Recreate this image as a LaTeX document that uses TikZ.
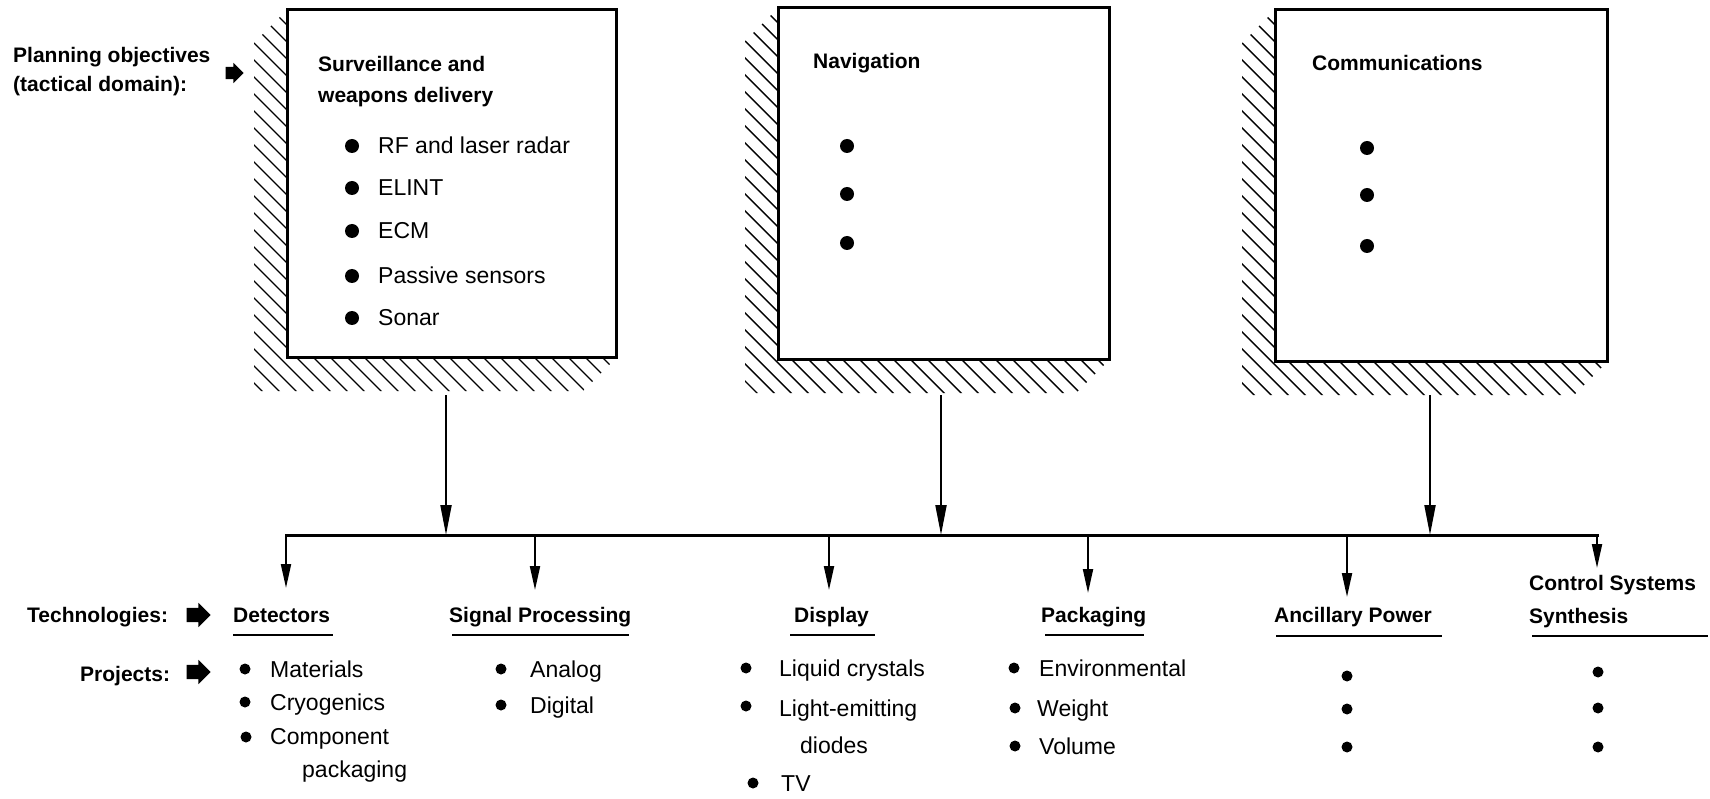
\documentclass[tikz,border=0pt]{standalone}
\usepackage{fontspec}
\setmainfont{Liberation Sans}
\usetikzlibrary{arrows.meta,shapes.arrows}
\newcommand\hatchedframe[5]{%
  \begin{scope}
    \clip (#2,#3) -- (#2-33,#3+33) -- (#2-33,#5+33) -- (#4-33,#5+33) -- (#4,#5) -- (#2,#5) -- cycle;
    \foreach \i in {0,...,28} \draw[hatch] (#2-440+\i*17,#3) -- ++(470,470);
  \end{scope}
  \node[frame, minimum width={(#4-#2)*1pt}, minimum height={(#5-#3)*1pt}] (#1) at ({(#2+#4)/2},{(#3+#5)/2}) {};
}
\begin{document}
\begin{tikzpicture}[x=1pt,y=-1pt,
  hd/.style={font=\fontsize{21}{25}\selectfont\bfseries, inner sep=0, anchor=base west},
  it/.style={font=\fontsize{23}{27}\selectfont, inner sep=0, anchor=base west},
  frame/.style={draw, line width=3pt, inner sep=0},
  hatch/.style={line width=1.4pt},
  bigdot/.style={circle, fill, inner sep=0, minimum size=14pt},
  smalldot/.style={circle, fill, inner sep=0, minimum size=11pt},
  feed/.style={line width=2pt, -{Triangle[length=30pt,width=11pt]}},
  drop/.style={line width=2pt, -{Triangle[length=24pt,width=10pt]}},
  bus/.style={line width=3pt, line cap=rect},
  uline/.style={line width=2.5pt},
  fat/.style={single arrow, fill, inner xsep=0pt, inner ysep=7pt, single arrow head extend=5pt, minimum height=24pt}
]
\useasboundingbox (0,0) rectangle (1710,799);

% objective boxes
\hatchedframe{b1}{287}{10}{616}{358}
\hatchedframe{b2}{778}{8}{1109}{360}
\hatchedframe{b3}{1275}{10}{1607}{362}

% left labels
\node[hd] (plan1) at (13,63) {Planning objectives};
\node[hd] (plan2) at (13,92) {(tactical domain):};
\node[fat, inner ysep=6pt, single arrow head extend=4pt, minimum height=18pt] (fa1) at (231.5,73) {};

% box 1
\node[hd] (s1) at (318,72) {Surveillance and};
\node[hd] (s2) at (318,103) {weapons delivery};
\node[bigdot] (d11) at (352,146) {}; \node[it] (i11) at (378,154) {RF and laser radar};
\node[bigdot] (d12) at (352,188) {}; \node[it] (i12) at (378,196) {ELINT};
\node[bigdot] (d13) at (352,231) {}; \node[it] (i13) at (378,239) {ECM};
\node[bigdot] (d14) at (352,276) {}; \node[it] (i14) at (378,284) {Passive sensors};
\node[bigdot] (d15) at (352,318) {}; \node[it] (i15) at (378,326) {Sonar};

% box 2
\node[hd] (nav) at (813,69) {Navigation};
\node[bigdot] (d21) at (847,146) {};
\node[bigdot] (d22) at (847,194) {};
\node[bigdot] (d23) at (847,243) {};

% box 3
\node[hd] (com) at (1312,71) {Communications};
\node[bigdot] (d31) at (1367,148) {};
\node[bigdot] (d32) at (1367,195) {};
\node[bigdot] (d33) at (1367,246) {};

% feeds into bus
\coordinate (f1s) at (446,395); \coordinate (f1e) at (446,535);
\coordinate (f2s) at (941,395); \coordinate (f2e) at (941,535);
\coordinate (f3s) at (1430,395); \coordinate (f3e) at (1430,535);
\draw[feed] (f1s) -- (f1e);
\draw[feed] (f2s) -- (f2e);
\draw[feed] (f3s) -- (f3e);

% bus
\coordinate (busL) at (286,535); \coordinate (busR) at (1597,535);
\draw[bus] (busL) -- (busR);
\coordinate (t1) at (286,535);  \coordinate (e1) at (286,588);
\coordinate (t2) at (535,535);  \coordinate (e2) at (535,590);
\coordinate (t3) at (829,535);  \coordinate (e3) at (829,590);
\coordinate (t4) at (1088,535); \coordinate (e4) at (1088,593);
\coordinate (t5) at (1347,535); \coordinate (e5) at (1347,597);
\coordinate (t6) at (1597,535); \coordinate (e6) at (1597,568);
\foreach \k in {1,...,6} \draw[drop] (t\k) -- (e\k);

% row labels
\node[hd] (tech) at (27,622) {Technologies:};
\node[fat] (fa2) at (195,615) {};
\node[hd] (proj) at (80,681) {Projects:};
\node[fat] (fa3) at (195,672) {};

% technology headings
\node[hd] (h1) at (233,622) {Detectors};
\node[hd] (h2) at (449,622) {Signal Processing};
\node[hd] (h3) at (794,622) {Display};
\node[hd] (h4) at (1041,622) {Packaging};
\node[hd] (h5) at (1274,622) {Ancillary Power};
\node[hd] (h6a) at (1529,590) {Control Systems};
\node[hd] (h6) at (1529,623) {Synthesis};
\draw[uline] (233,635) -- (333,635);
\draw[uline] (452,635) -- (629,635);
\draw[uline] (790,635) -- (875,635);
\draw[uline] (1045,635) -- (1144,635);
\draw[uline] (1276,636) -- (1442,636);
\draw[uline] (1532,636) -- (1708,636);

% projects
\node[smalldot] (p11) at (245,669) {}; \node[it] (q11) at (270,677) {Materials};
\node[smalldot] (p12) at (245,702) {}; \node[it] (q12) at (270,710) {Cryogenics};
\node[smalldot] (p13) at (246,737) {}; \node[it] (q13) at (270,744) {Component};
\node[it] (q14) at (302,777) {packaging};

\node[smalldot] (p21) at (501,669) {}; \node[it] (q21) at (530,677) {Analog};
\node[smalldot] (p22) at (501,705) {}; \node[it] (q22) at (530,713) {Digital};

\node[smalldot] (p31) at (746,668) {}; \node[it] (q31) at (779,676) {Liquid crystals};
\node[smalldot] (p32) at (746,706) {}; \node[it] (q32) at (779,716) {Light-emitting};
\node[it] (q33) at (800,753) {diodes};
\node[smalldot] (p34) at (753,783) {}; \node[it] (q34) at (781,791) {TV};

\node[smalldot] (p41) at (1014,668) {}; \node[it] (q41) at (1039,676) {Environmental};
\node[smalldot] (p42) at (1015,708) {}; \node[it] (q42) at (1037,716) {Weight};
\node[smalldot] (p43) at (1015,746) {}; \node[it] (q43) at (1039,754) {Volume};

\node[smalldot] (p51) at (1347,676) {};
\node[smalldot] (p52) at (1347,709) {};
\node[smalldot] (p53) at (1347,747) {};

\node[smalldot] (p61) at (1598,672) {};
\node[smalldot] (p62) at (1598,708) {};
\node[smalldot] (p63) at (1598,747) {};
\end{tikzpicture}
\end{document}
